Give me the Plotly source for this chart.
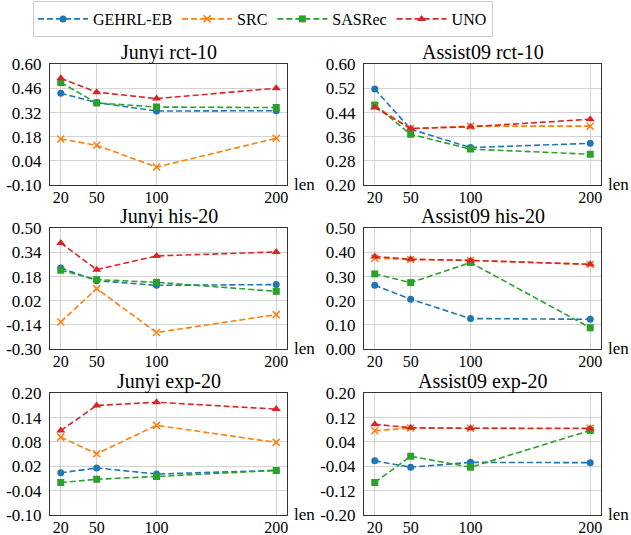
import plotly.graph_objects as go
from plotly.subplots import make_subplots

lens = [20, 50, 100, 200]
methods = ["GEHRL-EB", "SRC", "SASRec", "UNO"]

titles = ["Junyi rct-10", "Assist09 rct-10", "Junyi his-20",
          "Assist09 his-20", "Junyi exp-20", "Assist09 exp-20"]

# values per panel, per method (GEHRL-EB, SRC, SASRec, UNO)
junyi_rct = [[0.432, 0.378, 0.329, 0.331],
             [0.167, 0.130, 0.004, 0.171],
             [0.494, 0.376, 0.352, 0.349],
             [0.519, 0.438, 0.401, 0.461]]
assist_rct = [[0.518, 0.385, 0.324, 0.338],
              [0.462, 0.387, 0.395, 0.395],
              [0.465, 0.368, 0.319, 0.302],
              [0.457, 0.387, 0.393, 0.418]]
junyi_his = [[0.237, 0.153, 0.122, 0.127],
             [-0.121, 0.100, -0.191, -0.072],
             [0.222, 0.160, 0.142, 0.082],
             [0.403, 0.226, 0.317, 0.343]]
assist_his = [[0.264, 0.206, 0.126, 0.123],
              [0.376, 0.371, 0.367, 0.350],
              [0.311, 0.275, 0.358, 0.088],
              [0.383, 0.372, 0.367, 0.351]]
junyi_exp = [[0.004, 0.016, 0.001, 0.010],
             [0.092, 0.051, 0.121, 0.079],
             [-0.020, -0.012, -0.005, 0.010],
             [0.108, 0.170, 0.178, 0.161]]
assist_exp = [[-0.022, -0.043, -0.027, -0.028],
              [0.077, 0.086, 0.085, 0.085],
              [-0.093, -0.007, -0.043, 0.078],
              [0.098, 0.087, 0.085, 0.084]]
panels = [junyi_rct, assist_rct, junyi_his, assist_his, junyi_exp, assist_exp]

# y tick values and labels per panel
yticks_junyi_rct = [-0.10, 0.04, 0.18, 0.32, 0.46, 0.60]
ylabels_junyi_rct = ["-0.10", "0.04", "0.18", "0.32", "0.46", "0.60"]
yticks_assist_rct = [0.20, 0.28, 0.36, 0.44, 0.52, 0.60]
ylabels_assist_rct = ["0.20", "0.28", "0.36", "0.44", "0.52", "0.60"]
yticks_junyi_his = [-0.30, -0.14, 0.02, 0.18, 0.34, 0.50]
ylabels_junyi_his = ["-0.30", "-0.14", "0.02", "0.18", "0.34", "0.50"]
yticks_assist_his = [0.00, 0.10, 0.20, 0.30, 0.40, 0.50]
ylabels_assist_his = ["0.00", "0.10", "0.20", "0.30", "0.40", "0.50"]
yticks_junyi_exp = [-0.10, -0.04, 0.02, 0.08, 0.14, 0.20]
ylabels_junyi_exp = ["-0.10", "-0.04", "0.02", "0.08", "0.14", "0.20"]
yticks_assist_exp = [-0.20, -0.12, -0.04, 0.04, 0.12, 0.20]
ylabels_assist_exp = ["-0.20", "-0.12", "-0.04", "0.04", "0.12", "0.20"]
yticks = [yticks_junyi_rct, yticks_assist_rct, yticks_junyi_his,
          yticks_assist_his, yticks_junyi_exp, yticks_assist_exp]
ylabels = [ylabels_junyi_rct, ylabels_assist_rct, ylabels_junyi_his,
           ylabels_assist_his, ylabels_junyi_exp, ylabels_assist_exp]
xlabels = ["20", "50", "100", "200"]

colors = ["#1f77b4", "#ff7f0e", "#2ca02c", "#d62728"]
symbols = ["circle", "x-thin", "square", "triangle-up"]
sizes = [7, 7, 7, 8]

FONT = "Liberation Serif, Times New Roman, Times, DejaVu Serif, serif"
W, H = 631, 535

fig = make_subplots(rows=3, cols=2)

xdom = [[50 / W, 287 / W], [364 / W, 601 / W]]
rows_px = [(64.3, 185), (228.3, 349), (393.3, 515)]

for p in range(6):
    r, c = p // 2 + 1, p % 2 + 1
    for m in range(4):
        mk = dict(symbol=symbols[m], size=sizes[m], color=colors[m])
        if symbols[m] == "x-thin":
            mk["line"] = dict(color=colors[m], width=1.5)
        fig.add_trace(go.Scatter(
            x=lens, y=panels[p][m], mode="lines+markers", name=methods[m],
            legendgroup=methods[m], showlegend=(p == 0),
            line=dict(color=colors[m], width=1.6, dash="6px,3px"),
            marker=mk), row=r, col=c)
    top, bot = rows_px[p // 2]
    ax = "" if p == 0 else str(p + 1)
    fig.layout["xaxis" + ax].update(
        domain=xdom[c - 1], range=[11, 209], tickvals=lens, ticktext=xlabels,
        showgrid=True, gridcolor="#d3d3d3", gridwidth=1, automargin=False,
        showline=True, mirror=True, linecolor="#333333", linewidth=1,
        zeroline=False, ticks="", tickfont=dict(family=FONT, size=16, color="black"),
        ticklabelstandoff=-2)
    fig.layout["yaxis" + ax].update(
        domain=[1 - bot / H, 1 - top / H], automargin=False,
        range=[yticks[p][0], yticks[p][-1]], tickvals=yticks[p], ticktext=ylabels[p],
        showgrid=True, gridcolor="#d3d3d3", gridwidth=1,
        showline=True, mirror=True, linecolor="#333333", linewidth=1,
        zeroline=False, ticks="", tickfont=dict(family=FONT, size=17, color="black"),
        ticklabelstandoff=4)
    xd = xdom[c - 1]
    fig.add_annotation(text=titles[p], xref="paper", yref="paper",
                       x=(xd[0] + xd[1]) / 2, y=1 - (top - 12) / H,
                       xanchor="center", yanchor="middle", showarrow=False,
                       font=dict(family=FONT, size=20, color="black"))
    fig.add_annotation(text="len", xref="paper", yref="paper",
                       x=xd[1] + 5 / W, y=1 - (bot - 1) / H,
                       xanchor="left", yanchor="middle", showarrow=False,
                       font=dict(family=FONT, size=17, color="black"))

fig.update_layout(
    width=W, height=H, margin=dict(l=0, r=0, t=0, b=0, autoexpand=False),
    paper_bgcolor="white", plot_bgcolor="white",
    font=dict(family=FONT, size=16, color="black"),
    legend=dict(orientation="h", x=33 / W, y=1 - 1 / H, xanchor="left", yanchor="top",
                bordercolor="#cccccc", borderwidth=1, itemwidth=50,
                font=dict(family=FONT, size=16, color="black")),
)

fig.write_html("out.html", config={"displayModeBar": False},
               post_script="document.body.style.margin='0';")
